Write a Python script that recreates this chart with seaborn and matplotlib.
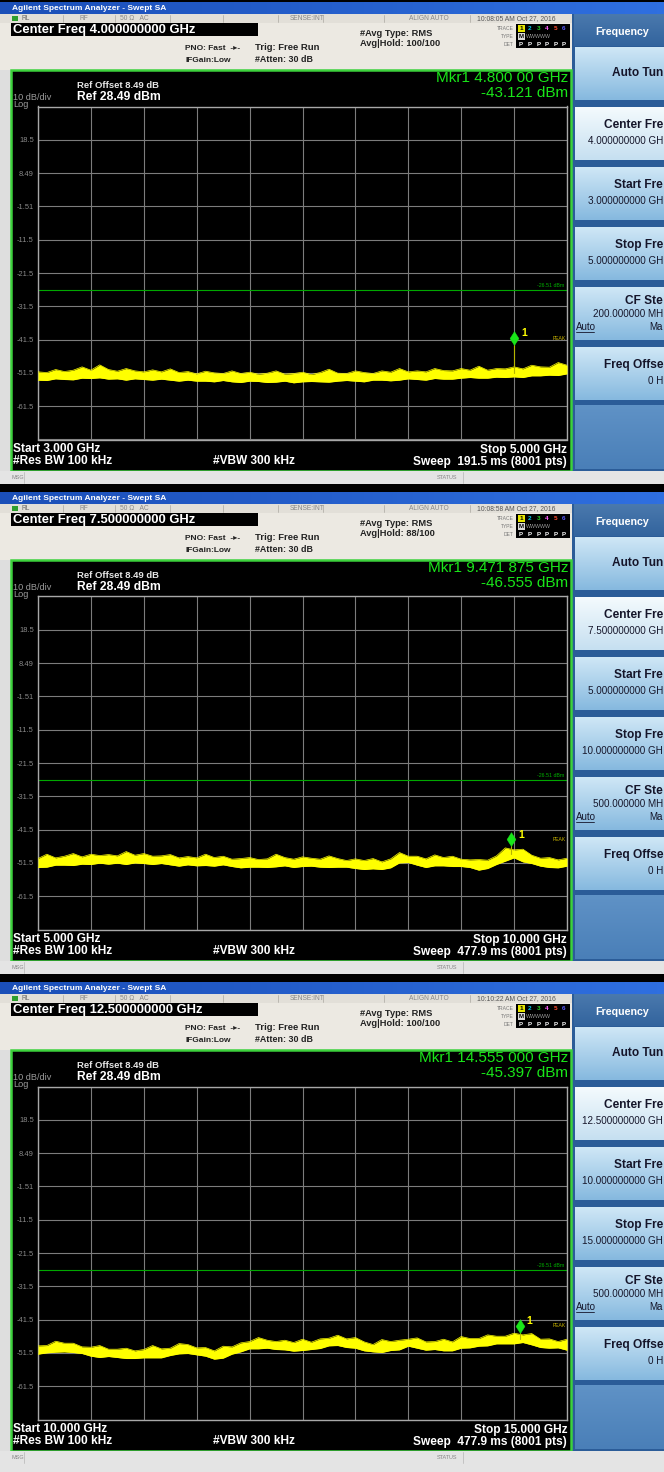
import numpy as np
import matplotlib
matplotlib.use("Agg")
import matplotlib.pyplot as plt
import seaborn as sns
from matplotlib.patches import Rectangle
from matplotlib.path import Path
from matplotlib.colors import to_rgb

# ---------------------------------------------------------------- sweep data
START_GHZ = [3.0, 5.0, 10.0]
STOP_GHZ = [5.0, 10.0, 15.0]
CENTER_LABELS = ["4.000000000 GHz", "7.500000000 GHz", "12.500000000 GHz"]
START_LABELS = ["3.000 GHz", "5.000 GHz", "10.000 GHz"]
STOP_LABELS = ["5.000 GHz", "10.000 GHz", "15.000 GHz"]
START_KEY_LABELS = ["3.000000000 GHz", "5.000000000 GHz", "10.000000000 GHz"]
STOP_KEY_LABELS = ["5.000000000 GHz", "10.000000000 GHz", "15.000000000 GHz"]
CF_STEP_LABELS = ["200.000000 MHz", "500.000000 MHz", "500.000000 MHz"]
TIMESTAMPS = ["10:08:05 AM Oct 27, 2016", "10:08:58 AM Oct 27, 2016",
              "10:10:22 AM Oct 27, 2016"]
AVG_HOLD = ["100/100", "88/100", "100/100"]
SWEEP_LABELS = ["191.5 ms (8001 pts)", "477.9 ms (8001 pts)", "477.9 ms (8001 pts)"]

MARKER_GHZ = [4.8, 9.471875, 14.555]
MARKER_FREQ_LABELS = ["4.800 00 GHz", "9.471 875 GHz", "14.555 000 GHz"]
MARKER_DBM = [-43.121, -46.555, -45.397]
MARKER_TRACE_DBM = [-51.6, -48.9, -47.4]

REF_LEVEL_DBM = 28.49
DB_PER_DIV = 10
DISPLAY_LINE_DBM = -26.51
Y_TICK_LABELS = ["", "18.5", "8.49", "-1.51", "-11.5", "-21.5",
                 "-31.5", "-41.5", "-51.5", "-61.5", ""]

# soft key captions as far as the column shows them
KEY_TITLES = ["Auto Tun", "Center Fre", "Start Fre", "Stop Fre", "CF Ste", "Freq Offse"]

# trace envelopes (upper / lower edge of the noise band), dBm
P1_HI = [-51.2, -51.4, -50.5, -51.1, -50.7, -49.7, -50.7, -49.1, -50.5, -51.0,
         -50.2, -50.9, -51.2, -50.6, -51.2, -50.3, -51.4, -51.1, -51.8, -51.0,
         -51.5, -51.7, -50.9, -51.7, -51.3, -51.9, -51.6, -50.9, -51.9, -51.7,
         -51.3, -52.0, -51.4, -50.4, -51.6, -51.7, -50.9, -51.4, -51.7, -50.9,
         -51.3, -50.2, -51.2, -50.9, -51.2, -50.2, -50.8, -50.9, -50.2, -50.7,
         -49.5, -50.7, -50.2, -50.3, -49.7, -50.3, -49.2, -49.7, -49.8, -48.4,
         -49.2]
P1_LO = [-53.7, -53.8, -53.3, -53.5, -53.6, -53.1, -53.2, -53.0, -53.4, -53.3,
         -53.7, -53.3, -53.5, -53.7, -53.4, -53.7, -54.0, -53.7, -54.0, -54.0,
         -54.2, -53.8, -54.2, -54.4, -54.0, -54.1, -54.4, -54.3, -54.0, -54.5,
         -54.2, -54.1, -54.2, -54.3, -54.0, -53.8, -54.0, -54.2, -53.7, -53.7,
         -53.9, -53.7, -53.3, -53.5, -53.7, -53.2, -53.4, -53.4, -53.1, -52.9,
         -53.1, -53.1, -52.8, -52.9, -52.7, -52.9, -52.4, -52.4, -52.2, -52.3,
         -51.8]
P2_HI = [-50.2, -48.9, -50.0, -49.5, -48.7, -49.7, -48.9, -49.3, -49.0, -49.4,
         -48.1, -49.2, -48.7, -49.5, -49.4, -49.0, -50.0, -49.6, -50.0, -48.9,
         -49.9, -49.5, -50.4, -50.2, -49.9, -50.5, -50.3, -48.9, -49.9, -50.4,
         -49.7, -50.1, -50.4, -49.4, -50.2, -50.8, -50.3, -50.8, -50.2, -51.2,
         -50.3, -48.4, -49.5, -49.5, -50.3, -49.1, -49.9, -49.5, -50.4, -50.6,
         -50.5, -50.7, -49.4, -47.0, -47.6, -47.4, -49.2, -50.1, -49.9, -50.6,
         -50.1]
P2_LO = [-52.9, -52.8, -52.2, -52.2, -52.3, -51.9, -52.0, -51.6, -51.9, -51.6,
         -52.0, -51.5, -51.7, -52.0, -51.7, -52.1, -52.5, -52.1, -52.4, -52.3,
         -52.5, -52.1, -52.6, -53.0, -52.8, -52.8, -52.9, -52.7, -52.4, -52.9,
         -52.6, -52.5, -52.8, -52.9, -52.8, -52.8, -53.2, -53.5, -53.3, -53.5,
         -53.0, -51.5, -51.4, -52.2, -52.9, -52.4, -52.4, -52.6, -52.6, -52.9,
         -53.7, -53.2, -52.0, -51.0, -50.0, -51.2, -51.7, -52.5, -52.9, -53.0,
         -52.5]
P3_HI = [-49.4, -49.3, -48.0, -48.6, -48.6, -49.7, -49.8, -49.3, -50.4, -50.4,
         -50.1, -50.9, -50.5, -49.3, -50.3, -50.1, -48.7, -49.0, -50.0, -49.9,
         -50.9, -49.5, -49.7, -48.5, -48.1, -46.9, -47.7, -48.1, -47.7, -48.4,
         -47.4, -48.3, -47.3, -47.1, -46.2, -47.3, -46.9, -48.2, -49.0, -47.5,
         -48.1, -47.7, -47.4, -47.0, -48.2, -48.1, -47.4, -48.2, -46.6, -47.2,
         -47.2, -46.1, -46.5, -46.5, -45.6, -46.1, -45.7, -47.4, -47.3, -48.1,
         -47.4]
P3_LO = [-51.9, -51.5, -51.3, -51.2, -51.4, -51.7, -52.5, -52.9, -52.6, -52.9,
         -53.2, -53.2, -53.0, -53.0, -53.0, -52.3, -51.8, -51.7, -52.1, -52.5,
         -53.4, -53.1, -51.9, -51.2, -50.3, -50.3, -50.1, -50.5, -50.6, -51.0,
         -50.8, -50.5, -50.2, -49.4, -49.3, -49.9, -50.1, -50.9, -51.2, -51.4,
         -50.8, -50.6, -49.5, -50.1, -50.7, -50.5, -50.9, -50.9, -50.1, -50.0,
         -49.5, -49.4, -48.8, -48.8, -48.8, -48.4, -49.1, -49.9, -50.1, -50.0,
         -50.7]
TRACE_HI = [P1_HI, P2_HI, P3_HI]
TRACE_LO = [P1_LO, P2_LO, P3_LO]

# ---------------------------------------------------------------- styling
W, H = 664, 1472
PANEL_OFFSETS = [0, 490, 980]
GRAT_X0, GRAT_X1 = 38, 567
GRAT_Y0, GRAT_Y1 = 106.5, 439.5
KEY_RIGHT = 663

YELLOW = "#ffff00"
MKR_GREEN = "#19e619"
BORDER_GREEN = "#3cd23c"
GRID = "#7c7c7c"
FRAME_BG = "#ece9e2"
KEY_TEXT = "#15152a"

sns.set_theme(style="dark")
plt.rcParams["font.family"] = ["Liberation Sans", "DejaVu Sans"]

fig = plt.figure(figsize=(W / 100, H / 100), dpi=100, facecolor="black")
ov = fig.add_axes([0, 0, 1, 1])
ov.set_axis_off()
ov.set_zorder(0)


def rect(x, y, w, h, color, z=1, **kw):
    ov.add_patch(Rectangle((x, y), w, h, facecolor=color, edgecolor="none", zorder=z, **kw))


def grad(x, y, w, h, c0, c1, z=1, horizontal=False):
    a, b = np.array(to_rgb(c0)), np.array(to_rgb(c1))
    t = np.linspace(0, 1, 48)
    ramp = a[None, :] * (1 - t[:, None]) + b[None, :] * t[:, None]
    img = ramp[None, :, :] if horizontal else ramp[:, None, :]
    ov.imshow(img, extent=(x, x + w, y + h, y), origin="upper", aspect="auto",
              interpolation="bilinear", zorder=z)


def txt(x, y, s, size, color="#111111", weight="bold", ha="left", va="center", z=5, **kw):
    ov.text(x, y, s, fontsize=size, color=color, fontweight=weight, ha=ha, va=va,
            zorder=z, **kw)


# diamond marker whose lower tip sits on the marker level
diamond = Path([(0, 0), (0.32, 0.5), (0, 1), (-0.32, 0.5), (0, 0)],
               [Path.MOVETO, Path.LINETO, Path.LINETO, Path.LINETO, Path.CLOSEPOLY])

for i, off in enumerate(PANEL_OFFSETS):
    last = i == len(PANEL_OFFSETS) - 1

    # ---------------- window chrome
    grad(0, off + 2, W, 12, "#1b4fb8", "#2f6fe0", z=1, horizontal=True)
    txt(12, off + 8, "Agilent Spectrum Analyzer - Swept SA", 6.0, color="white")

    rect(0, off + 14, 572, 8.5, "#e2dfd8")
    for xd in [63, 115, 170, 223, 278, 323, 384, 470]:
        ov.plot([xd, xd], [off + 14.5, off + 22], color="#b4b1aa", lw=0.6, zorder=2)
    rect(11.5, off + 15.5, 6.5, 5.5, "#2f9e2f", z=3)
    txt(22, off + 18.3, "RL", 4.8, color="#666666", weight="normal")
    txt(80, off + 18.3, "RF", 4.8, color="#888888", weight="normal")
    txt(120, off + 18.3, "50 Ω   AC", 4.8, color="#888888", weight="normal")
    txt(290, off + 18.3, "SENSE:INT", 4.8, color="#888888", weight="normal")
    txt(409, off + 18.3, "ALIGN AUTO", 4.8, color="#888888", weight="normal")
    txt(477, off + 18.3, TIMESTAMPS[i], 4.9, color="#555555", weight="normal")

    rect(0, off + 22.5, 572, 47, FRAME_BG)
    rect(11, off + 23, 247, 13, "black", z=2)
    txt(13, off + 29.6, "Center Freq " + CENTER_LABELS[i], 9.4, color="white")

    txt(185, off + 49, "PNO: Fast  -▸-", 6.0, color="#222222")
    txt(185, off + 60, "IFGain:Low", 6.0, color="#222222")
    txt(255, off + 47.5, "Trig: Free Run", 6.8, color="#222222")
    txt(255, off + 59, "#Atten: 30 dB", 6.4, color="#222222")
    txt(360, off + 33.5, "#Avg Type: RMS", 6.7, color="#222222")
    txt(360, off + 43.5, "Avg|Hold: " + AVG_HOLD[i], 6.7, color="#222222")

    # trace status block
    txt(514, off + 28, "TRACE", 3.6, color="#777777", weight="normal", ha="right")
    txt(514, off + 36, "TYPE", 3.6, color="#777777", weight="normal", ha="right")
    txt(514, off + 44, "DET", 3.6, color="#777777", weight="normal", ha="right")
    rect(516, off + 23.5, 54, 24.5, "black", z=2)
    trace_cols = ["#000000", "#00c8e8", "#28d028", "#ff60ff", "#ff5030", "#5a5aff"]
    rect(517.5, off + 24.5, 7, 7, "#e6e600", z=3)
    for k in range(6):
        txt(521 + 8.6 * k, off + 28.2, str(k + 1), 4.6, color=trace_cols[k], ha="center")
    rect(517.5, off + 32.5, 7, 7, "#d8d8d8", z=3)
    txt(521, off + 36.2, "M", 4.4, color="black", ha="center")
    txt(526, off + 36.2, "WWWWW", 3.8, color="#9a9a9a", weight="normal", ha="left")
    for k in range(6):
        txt(521 + 8.6 * k, off + 44.2, "P", 4.4, color="white", ha="center")

    # left frame strip and the screen
    rect(0, off + 69.5, 11, 402, "#dedede")
    ov.add_patch(Rectangle((11, off + 69.5), 560, 401, facecolor="black",
                           edgecolor=BORDER_GREEN, lw=1.8, zorder=2))

    txt(77, off + 85, "Ref Offset 8.49 dB", 6.8, color="#e6e6e6")
    txt(77, off + 96.5, "Ref 28.49 dBm", 8.7, color="white")
    txt(13, off + 97.5, "10 dB/div", 6.6, color="#9a9a9a", weight="normal")
    txt(13, off + 104.5, "Log", 6.6, color="#9a9a9a", weight="normal")
    txt(568, off + 78.5, "Mkr1 " + MARKER_FREQ_LABELS[i], 11.0, color=MKR_GREEN,
        weight="normal", ha="right")
    txt(568, off + 93, f"{MARKER_DBM[i]:.3f} dBm", 11.0, color=MKR_GREEN,
        weight="normal", ha="right")

    txt(13, off + 449.5, "Start " + START_LABELS[i], 8.6, color="white")
    txt(13, off + 461.5, "#Res BW 100 kHz", 8.6, color="white")
    txt(213, off + 461.5, "#VBW 300 kHz", 8.6, color="white")
    txt(567, off + 449.5, "Stop " + STOP_LABELS[i], 8.6, color="white", ha="right")
    txt(567, off + 461.5, "Sweep  " + SWEEP_LABELS[i], 8.6, color="white", ha="right")

    # ---------------- soft key column
    rect(572, off + 14, 92, 457, "#2b5c98")
    grad(574, off + 14, 90, 32, "#4a79ad", "#33649e", z=2)
    txt(622, off + 32, "Frequency", 7.7, color="white", ha="center")

    values = [None, CENTER_LABELS[i][:-1], START_KEY_LABELS[i][:-1],
              STOP_KEY_LABELS[i][:-1], CF_STEP_LABELS[i][:-1], "0 H"]
    for k, (title, value) in enumerate(zip(KEY_TITLES, values)):
        top = 47 + 60 * k
        if k == 1:
            grad(575, off + top, 89, 53, "#f4fafd", "#c6e0f1", z=2)
        else:
            grad(575, off + top, 89, 53, "#cfe7f6", "#86b9df", z=2)
        if value is None:
            txt(KEY_RIGHT, off + top + 26, title, 8.6, color=KEY_TEXT, ha="right")
        elif k == 4:
            txt(KEY_RIGHT, off + top + 14, title, 8.6, color=KEY_TEXT, ha="right")
            txt(KEY_RIGHT, off + top + 27, value, 7.1, color=KEY_TEXT, weight="normal",
                ha="right")
            txt(576, off + top + 40, "Auto", 7.0, color=KEY_TEXT, weight="normal")
            ov.plot([576, 594], [off + top + 44.5, off + top + 44.5], color=KEY_TEXT,
                    lw=0.6, zorder=5)
            txt(KEY_RIGHT, off + top + 40, "Ma", 7.0, color=KEY_TEXT, weight="normal",
                ha="right")
        else:
            txt(KEY_RIGHT, off + top + 18, title, 8.6, color=KEY_TEXT, ha="right")
            txt(KEY_RIGHT, off + top + 34, value, 7.1, color=KEY_TEXT, weight="normal",
                ha="right")
    grad(575, off + 405, 89, 64, "#5f92c6", "#4a7fb8", z=2)

    # ---------------- message bar
    bar_h = (H - off - 471) if last else 13
    rect(0, off + 471, W, bar_h, "#e4e4e4", z=2)
    ov.plot([24, 24], [off + 472, off + 483], color="#bdbdbd", lw=0.6, zorder=3)
    ov.plot([463, 463], [off + 472, off + 483], color="#bdbdbd", lw=0.6, zorder=3)
    txt(12, off + 477.5, "MSG", 4.0, color="#888888", weight="normal")
    txt(447, off + 477.5, "STATUS", 4.0, color="#888888", weight="normal", ha="center")

    # ---------------- graticule with the measured trace
    ax = fig.add_axes([GRAT_X0 / W, 1 - (off + GRAT_Y1) / H,
                       (GRAT_X1 - GRAT_X0) / W, (GRAT_Y1 - GRAT_Y0) / H])
    ax.set_zorder(3)
    ax.set_facecolor("black")
    ax.patch.set_alpha(0.0)

    hi = np.array(TRACE_HI[i])
    lo = np.array(TRACE_LO[i])
    freq = np.linspace(START_GHZ[i], STOP_GHZ[i], len(hi))
    ax.fill_between(freq, lo, hi, color=YELLOW, lw=0, zorder=3)
    sns.lineplot(x=freq, y=hi, ax=ax, color=YELLOW, lw=0.5, zorder=4)
    sns.lineplot(x=freq, y=lo, ax=ax, color=YELLOW, lw=0.5, zorder=4)

    levels = [REF_LEVEL_DBM - DB_PER_DIV * k for k in range(11)]
    ax.set_ylim(levels[-1], levels[0])
    ax.set_xlim(START_GHZ[i], STOP_GHZ[i])
    ax.set_yticks(levels)
    ax.set_yticklabels(Y_TICK_LABELS)
    ax.set_xticks(np.linspace(START_GHZ[i], STOP_GHZ[i], 11))
    ax.set_xticklabels([])
    ax.tick_params(axis="both", length=0)
    ax.tick_params(axis="y", labelsize=5.4, labelcolor="#8a8a8a", pad=3)
    ax.grid(True, color=GRID, lw=0.8)
    ax.set_axisbelow(True)
    for sp in ax.spines.values():
        sp.set_color("#a8a8a8")
        sp.set_linewidth(1.0)
    ax.set_xlabel("")
    ax.set_ylabel("")

    # display line
    ax.axhline(DISPLAY_LINE_DBM, color="#00a800", lw=0.8, zorder=2)
    ax.annotate(f"{DISPLAY_LINE_DBM:.2f} dBm", xy=(STOP_GHZ[i], DISPLAY_LINE_DBM),
                xytext=(-2, 1.5), textcoords="offset points", ha="right", va="bottom",
                fontsize=3.8, color="#00b000")

    # marker 1
    mf, mv = MARKER_GHZ[i], MARKER_DBM[i]
    ax.plot([mf, mf], [MARKER_TRACE_DBM[i], mv], color="#b5b500", lw=0.8, zorder=5)
    ax.plot([mf], [mv], marker=diamond, ms=20, color="#19e619", mec="#19e619",
            mew=0.3, zorder=6, clip_on=False)
    ax.annotate("1", xy=(mf, mv), xytext=(5, 8.5), textcoords="offset points",
                fontsize=7.5, color=YELLOW, fontweight="bold", ha="left", va="center")
    ax.annotate("PEAK", xy=(STOP_GHZ[i], mv), xytext=(-1, 5), textcoords="offset points",
                fontsize=3.6, color="#c9b400", ha="right", va="center")

ov.set_xlim(0, W)
ov.set_ylim(H, 0)
fig.savefig("out.png", dpi=100, facecolor="black")
